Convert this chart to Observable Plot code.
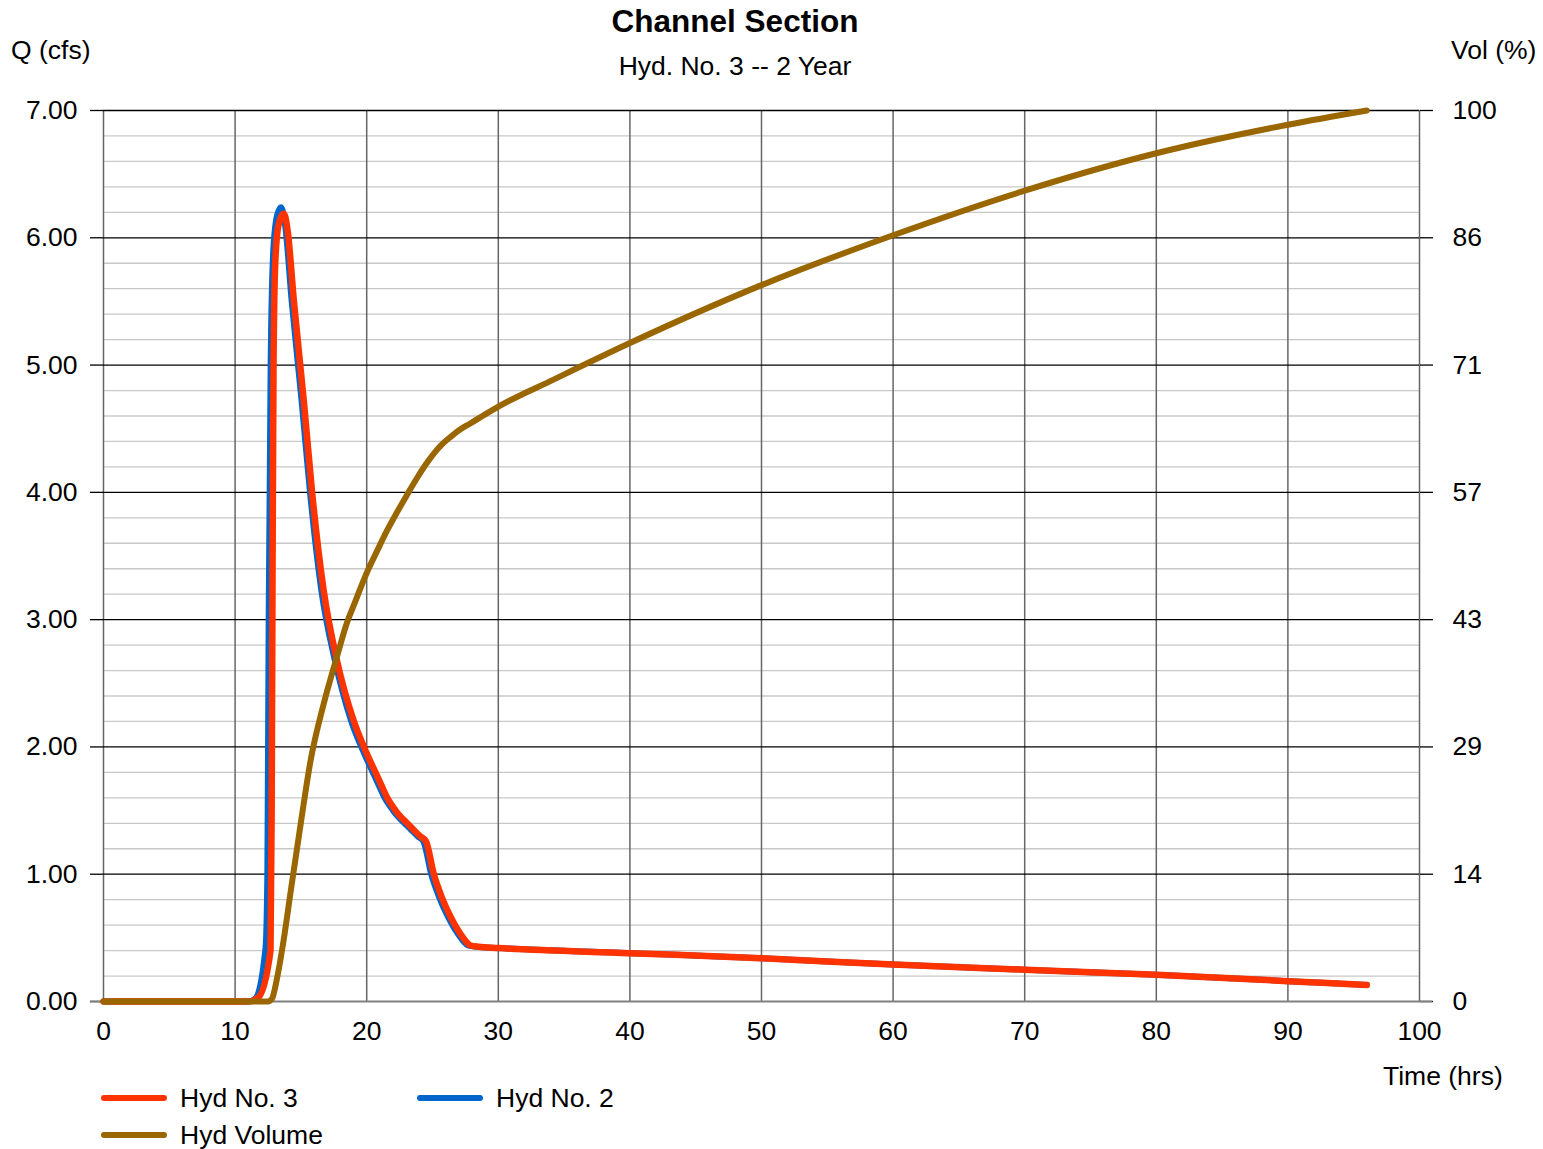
<!DOCTYPE html>
<html><head><meta charset="utf-8">
<script src="https://cdn.jsdelivr.net/npm/d3@7"></script>
<script src="https://cdn.jsdelivr.net/npm/@observablehq/plot@0.6"></script>
<style>
body{margin:0;background:#fff;font-family:"Liberation Sans",Arial,sans-serif;}
#wrap{position:relative;width:1543px;height:1149px;overflow:hidden;background:#fff;}
#wrap svg{position:absolute;left:0;top:0;}
.t{position:absolute;white-space:nowrap;line-height:1;color:#000;}
.sw{position:absolute;height:6px;border-radius:3px;}
</style></head><body><div id="wrap"></div>
<script>
// ---- data ----
const qMax = 7;
const qTicks = [0, 1, 2, 3, 4, 5, 6, 7];
const timeTicks = [0, 10, 20, 30, 40, 50, 60, 70, 80, 90, 100];

// Hyd No. 3 (outflow, red)
const hyd3T = [0, 11.0, 11.75, 12.69, 12.78, 12.85, 12.92, 13.05, 13.3, 13.7, 14.0, 14.46, 15.22, 15.86, 16.73, 17.76, 19.0, 20.0, 20.8, 21.2, 21.56, 22.06, 22.5, 23.08, 23.6, 24.1, 24.5, 25.1, 25.7, 26.4, 27.2, 27.9, 28.5, 30, 40, 50, 60, 70, 80, 90, 96];
const hyd3Q = [0, 0, 0.03, 0.40, 1.5, 3.5, 5.0, 5.8, 6.1, 6.19, 6.05, 5.51, 4.72, 3.99, 3.23, 2.67, 2.21, 1.95, 1.77, 1.68, 1.60, 1.52, 1.46, 1.40, 1.345, 1.295, 1.26, 1.0, 0.82, 0.66, 0.52, 0.44, 0.43, 0.42, 0.38, 0.34, 0.29, 0.25, 0.21, 0.16, 0.13];

// Hyd No. 2 (inflow, blue)
const hyd2T = [0, 11.0, 11.5, 12.31, 12.45, 12.55, 12.7, 12.9, 13.2, 13.5, 13.8, 14.3, 15.05, 15.7, 16.55, 17.6, 18.8, 19.8, 20.6, 21.0, 21.36, 21.86, 22.3, 22.88, 23.4, 23.9, 24.3, 24.9, 25.5, 26.2, 27.0, 27.7, 28.3, 30, 40, 50, 60, 70, 80, 90, 96];
const hyd2Q = [0, 0, 0.02, 0.42, 1.0, 3.0, 5.0, 5.9, 6.18, 6.24, 6.1, 5.5, 4.72, 3.99, 3.23, 2.67, 2.21, 1.95, 1.77, 1.68, 1.60, 1.52, 1.46, 1.40, 1.345, 1.295, 1.26, 1.0, 0.82, 0.66, 0.52, 0.44, 0.43, 0.42, 0.38, 0.34, 0.29, 0.25, 0.21, 0.16, 0.13];

// Hyd Volume (% of total, brown)
const volT = [0, 12.5, 12.8, 13.2, 13.7, 14.2, 15.1, 15.73, 16.73, 17.76, 18.5, 19.0, 20.0, 20.8, 21.56, 22.3, 23.08, 23.8, 24.5, 25.1, 25.7, 26.4, 27.1, 27.9, 29.0, 30.04, 34.2, 40, 50, 60, 70, 80, 90, 96];
const volPct = [0, 0, 0.3, 2.7, 7.0, 12.1, 21.1, 27.0, 33.4, 38.8, 42.5, 44.4, 48.1, 50.6, 52.9, 54.9, 56.9, 58.7, 60.3, 61.5, 62.5, 63.4, 64.2, 64.9, 65.9, 66.8, 69.8, 73.9, 80.4, 86.0, 91.0, 95.2, 98.4, 100];

const hyd3 = hyd3T.map((t, i) => ({t, q: hyd3Q[i]}));
const hyd2 = hyd2T.map((t, i) => ({t, q: hyd2Q[i]}));
const vol = volT.map((t, i) => ({t, v: volPct[i]}));
const minorQ = d3.range(1, 35).filter(i => i % 5).map(i => i / 5);

const font = '"Liberation Sans", Arial, sans-serif';
const fs = 26.5;
const lineOpts = {strokeLinecap: "round", strokeLinejoin: "round", curve: "monotone-x"};

const chart = Plot.plot({
  width: 1543, height: 1060,
  marginTop: 110, marginLeft: 103, marginRight: 124, marginBottom: 59,
  style: {fontFamily: font, fontSize: fs + "px", background: "white", overflow: "visible", color: "#000"},
  x: {domain: [0, 100]},
  y: {domain: [0, qMax]},
  marks: [
    Plot.ruleY(minorQ, {stroke: "#c8c8c8", strokeWidth: 1.3}),
    Plot.ruleX(timeTicks, {stroke: "#666", strokeWidth: 1.5}),
    Plot.ruleY(qTicks.filter(d => d > 0), {stroke: "#000", strokeWidth: 1.3}),
    Plot.axisY({anchor: "left", ticks: qTicks, tickFormat: d3.format(".2f"), tickSize: 13, tickPadding: 13, label: null, fontSize: fs, strokeWidth: 1.3}),
    Plot.axisY({anchor: "right", ticks: qTicks, tickFormat: d => d3.format(".0f")(d / qMax * 100), tickSize: 13, tickPadding: 20, label: null, fontSize: fs, strokeWidth: 1.3}),
    Plot.axisX({ticks: timeTicks, tickSize: 0, tickPadding: 20, label: null, fontSize: fs}),
    Plot.ruleY([0], {stroke: "#808080", strokeWidth: 2, x1: -1, x2: 101}),
    Plot.line(hyd2, {x: "t", y: "q", stroke: "#0066cc", strokeWidth: 6, ...lineOpts}),
    Plot.line(hyd3, {x: "t", y: "q", stroke: "#ff3300", strokeWidth: 6.5, ...lineOpts}),
    Plot.line(vol, {x: "t", y: d => d.v * qMax / 100, stroke: "#996600", strokeWidth: 6, ...lineOpts})
  ]
});

const wrap = document.getElementById("wrap");
wrap.appendChild(chart);

function text(str, left, baseline, size = fs, extra = {}) {
  const d = document.createElement("div");
  d.className = "t";
  d.textContent = str;
  d.style.fontSize = size + "px";
  d.style.left = left + "px";
  d.style.top = (baseline - 0.8465 * size) + "px";
  Object.assign(d.style, extra);
  wrap.appendChild(d);
  return d;
}
function swatch(color, left, centerY) {
  const s = document.createElement("div");
  s.className = "sw";
  s.style.background = color;
  s.style.left = left + "px";
  s.style.width = "66px";
  s.style.top = (centerY - 3) + "px";
  wrap.appendChild(s);
}

text("Channel Section", 435, 33, 31.5, {width: "600px", textAlign: "center", fontWeight: "bold"});
text("Hyd. No. 3 -- 2 Year", 435, 75, fs, {width: "600px", textAlign: "center"});
text("Q (cfs)", 11, 59);
text("Vol (%)", 1451, 59);
text("Time (hrs)", 1383, 1085);

swatch("#ff3300", 101, 1098);
text("Hyd No. 3", 180, 1107);
swatch("#0066cc", 417, 1098);
text("Hyd No. 2", 496, 1107);
swatch("#996600", 101, 1135);
text("Hyd Volume", 180, 1144);
</script>
</body></html>
